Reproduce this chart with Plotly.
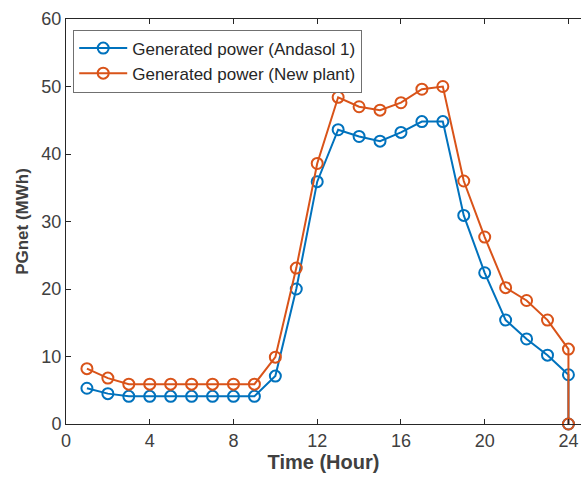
import plotly.graph_objects as go

hours = list(range(1, 25)) + [24]
andasol = [5.3, 4.5, 4.1, 4.1, 4.1, 4.1, 4.1, 4.1, 4.1, 7.1, 20.0, 35.9,
           43.6, 42.6, 41.9, 43.2, 44.8, 44.8, 30.9, 22.4, 15.4, 12.6, 10.2, 7.3, 0]
new_plant = [8.2, 6.8, 5.9, 5.9, 5.9, 5.9, 5.9, 5.9, 5.9, 9.9, 23.1, 38.6,
             48.4, 47.0, 46.5, 47.6, 49.6, 50.0, 36.0, 27.7, 20.2, 18.3, 15.4, 11.1, 0]
x_ticks = [0, 4, 8, 12, 16, 20, 24]
y_ticks = [0, 10, 20, 30, 40, 50, 60]

FONT = "Liberation Sans, Arial, sans-serif"
AX = "#262626"
TXT = "#404040"

fig = go.Figure()
fig.add_trace(go.Scatter(
    x=hours, y=andasol, mode="lines+markers", name="Generated power (Andasol 1)",
    line=dict(color="#0072BD", width=2),
    marker=dict(symbol="circle-open", size=11, line=dict(width=2), color="#0072BD"),
    cliponaxis=False))
fig.add_trace(go.Scatter(
    x=hours, y=new_plant, mode="lines+markers", name="Generated power (New plant)",
    line=dict(color="#D95319", width=2),
    marker=dict(symbol="circle-open", size=11, line=dict(width=2), color="#D95319"),
    cliponaxis=False))

fig.update_layout(
    width=581, height=485,
    margin=dict(l=66, r=0, t=19, b=61, autoexpand=False),
    paper_bgcolor="white", plot_bgcolor="white",
    font=dict(family=FONT, color=TXT, size=18),
    showlegend=True,
    legend=dict(x=0.014, y=0.974, xanchor="left", yanchor="top",
                bgcolor="white", bordercolor="#707070", borderwidth=1,
                font=dict(size=17, color=AX), tracegroupgap=0,
                itemwidth=48),
    xaxis=dict(range=[0, 24.6], tickvals=x_ticks, ticks="inside", ticklen=5,
               tickcolor=AX, showline=True, linecolor=AX, linewidth=1,
               mirror="ticks", showgrid=False, zeroline=False,
               tickfont=dict(size=18, color=TXT), automargin=False,
               title=dict(text="<b>Time (Hour)</b>", font=dict(size=20, color=TXT), standoff=0)),
    yaxis=dict(range=[0, 60], tickvals=y_ticks, ticks="inside", ticklen=5,
               tickcolor=AX, showline=True, linecolor=AX, linewidth=1,
               mirror=False, showgrid=False, zeroline=False,
               tickfont=dict(size=18, color=TXT), automargin=False,
               title=dict(text="<b>PGnet (MWh)</b>", font=dict(size=17, color=TXT), standoff=8)),
)

fig.write_html("out.html", config={"displayModeBar": False},
               post_script="document.body.style.margin='0';")
